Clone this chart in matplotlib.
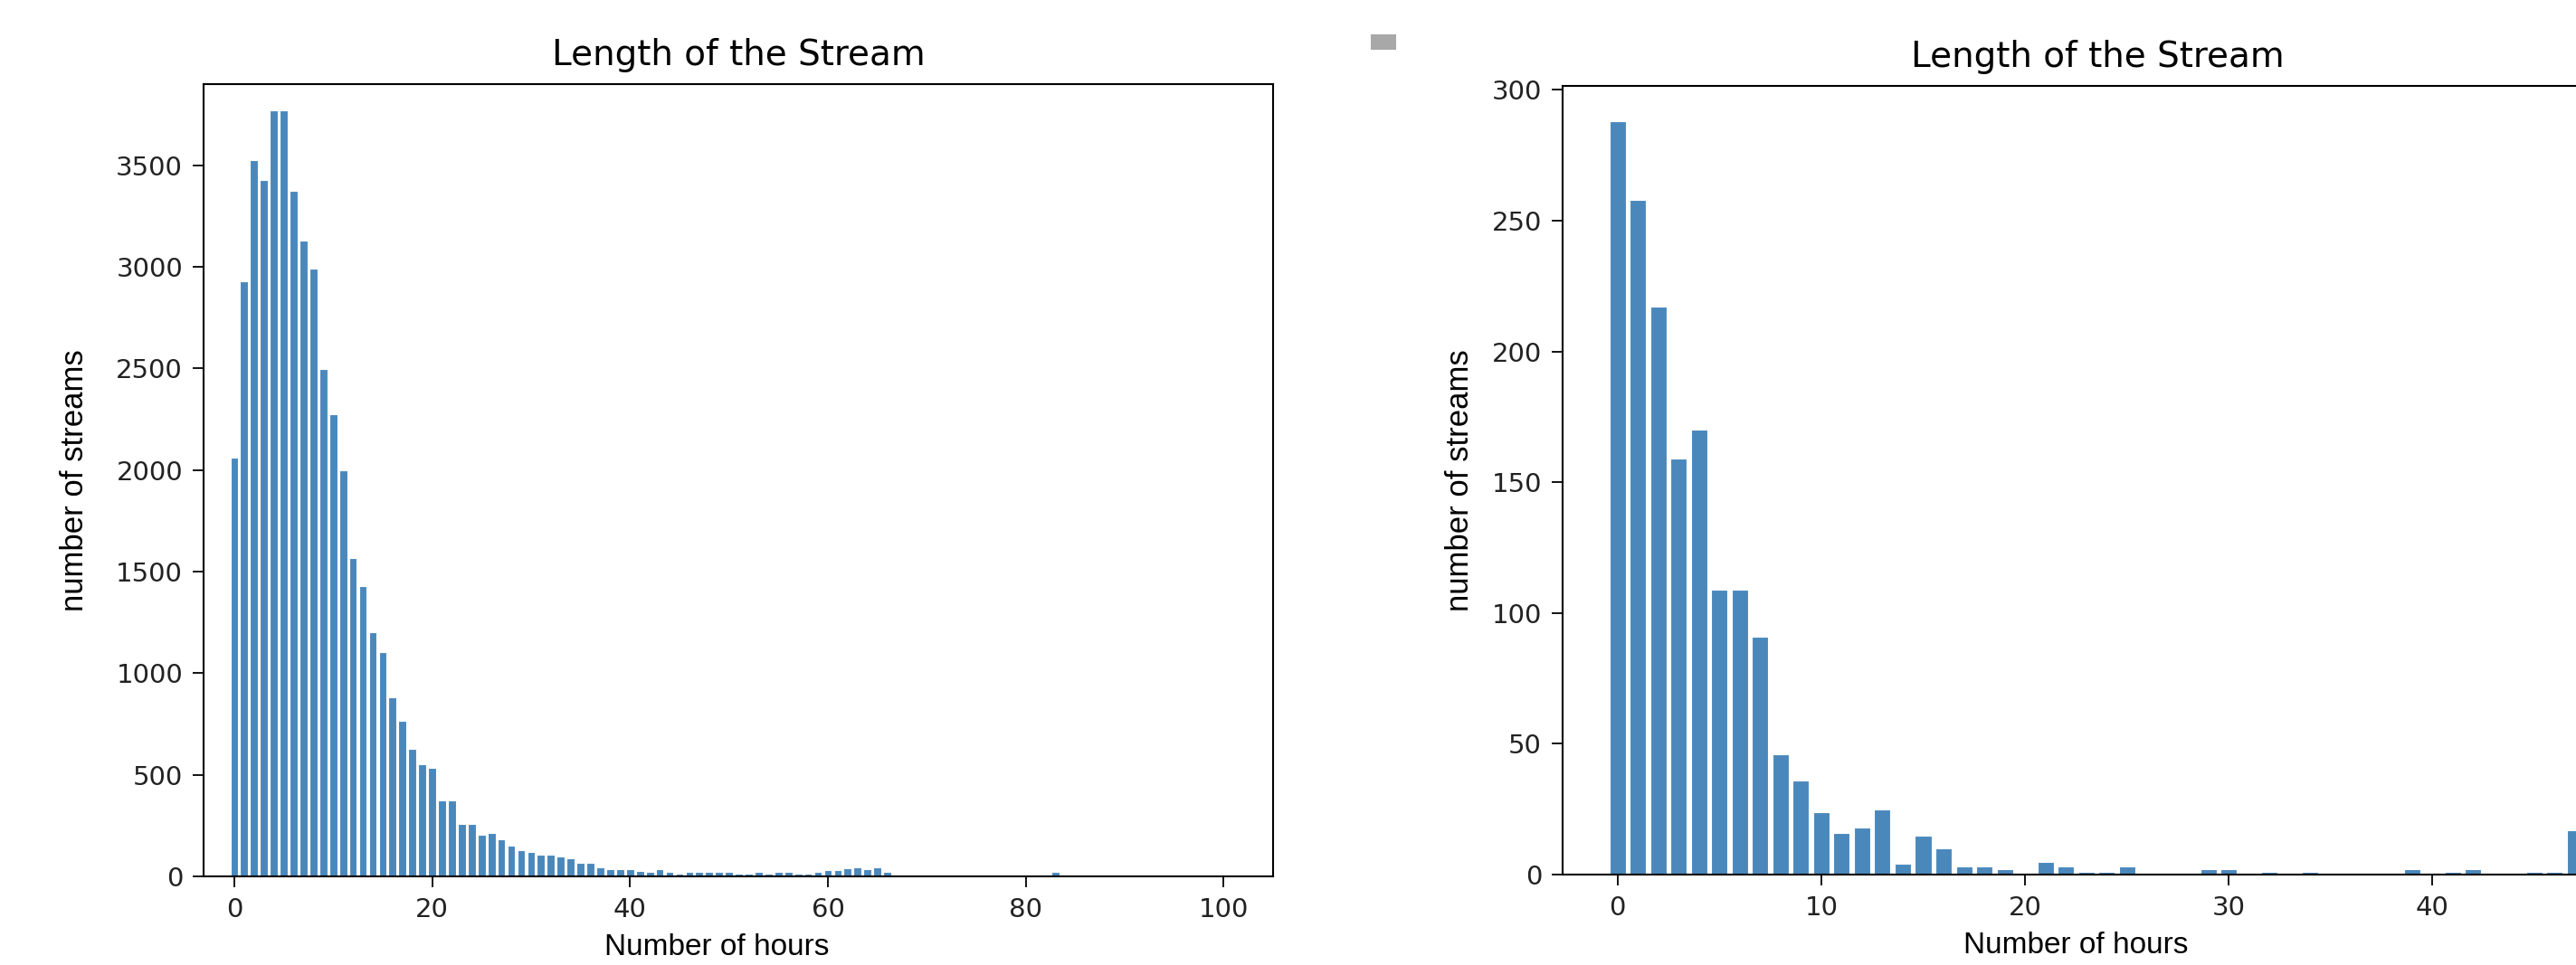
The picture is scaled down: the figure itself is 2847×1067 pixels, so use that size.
import matplotlib.pyplot as plt
from matplotlib.patches import Rectangle

# stream length counts (hours -> number of streams)
hours_all = list(range(0, 101))
streams_all = [2063, 2931, 3524, 3428, 3769, 3769, 3374, 3132, 2994, 2497,
               2274, 1999, 1567, 1430, 1200, 1102, 881, 764, 626, 552,
               533, 372, 372, 257, 257, 203, 214, 182, 152, 130,
               119, 108, 108, 96, 87, 67, 67, 45, 34, 34,
               34, 28, 22, 34, 22, 12, 22, 22, 22, 22,
               22, 12, 12, 22, 12, 22, 22, 12, 12, 24,
               33, 32, 41, 44, 37, 44, 22, 9, 0, 9,
               9, 0, 9, 9, 9, 0, 9, 0, 9, 9,
               0, 0, 0, 24, 0, 0, 0, 0, 0, 0,
               0, 0, 6, 0, 0, 6, 0, 0, 6, 0,
               0]

hours_sub = list(range(0, 48))
streams_sub = [288, 258, 217, 159, 170, 109, 109, 91, 46, 36,
               24, 16, 18, 25, 4, 15, 10, 3, 3, 2,
               0, 5, 3, 1, 1, 3, 0, 0, 0, 2,
               2, 0, 1, 0, 1, 0, 0, 0, 0, 2,
               0, 1, 2, 0, 0, 1, 1, 17]

bar_color = "#4a88bc"
W, H = 2847, 1067

fig = plt.figure(figsize=(W / 100, H / 100), dpi=100)

ax1 = fig.add_axes([225 / W, (H - 969) / H, 1182 / W, 876 / H])
ax2 = fig.add_axes([1727 / W, (H - 967) / H, 1182 / W, 872 / H])

ax1.bar(hours_all, streams_all, width=0.8, color=bar_color, edgecolor="white", linewidth=0.8)
ax2.bar(hours_sub, streams_sub, width=0.8, color=bar_color, edgecolor="white", linewidth=0.8)

ax1.set_xlim(-3.1, 105)
ax1.set_ylim(0, 3900)
ax1.set_xticks(range(0, 101, 20))
ax1.set_yticks(range(0, 3501, 500))

ax2.set_xlim(-2.7, 49.8)
ax2.set_ylim(0, 301.5)
ax2.set_xticks(range(0, 41, 10))
ax2.set_yticks(range(0, 301, 50))

label_font = ["Liberation Sans", "DejaVu Sans"]

for ax, ylab_x in [(ax1, -0.107), (ax2, -0.082)]:
    ax.set_title("Length of the Stream", fontsize=28, pad=15)
    ax.set_xlabel("Number of hours", fontsize=24, family=label_font)
    ax.set_ylabel("number of streams", fontsize=25, family=label_font)
    ax.xaxis.set_label_coords(0.48, -0.072)
    ax.yaxis.set_label_coords(ylab_x, 0.5)
    ax.tick_params(labelsize=21, length=8.5, width=1.3, pad=8, labelcolor="#222222")
    for sp in ax.spines.values():
        sp.set_linewidth(1.5)

# little grey mark left on the screenshot between the panels
fig.add_artist(Rectangle((1515 / W, (H - 55) / H), 28 / W, 17 / H,
                         transform=fig.transFigure, color="#a8a8a8", lw=0))

fig.savefig("out.png", dpi=100)
